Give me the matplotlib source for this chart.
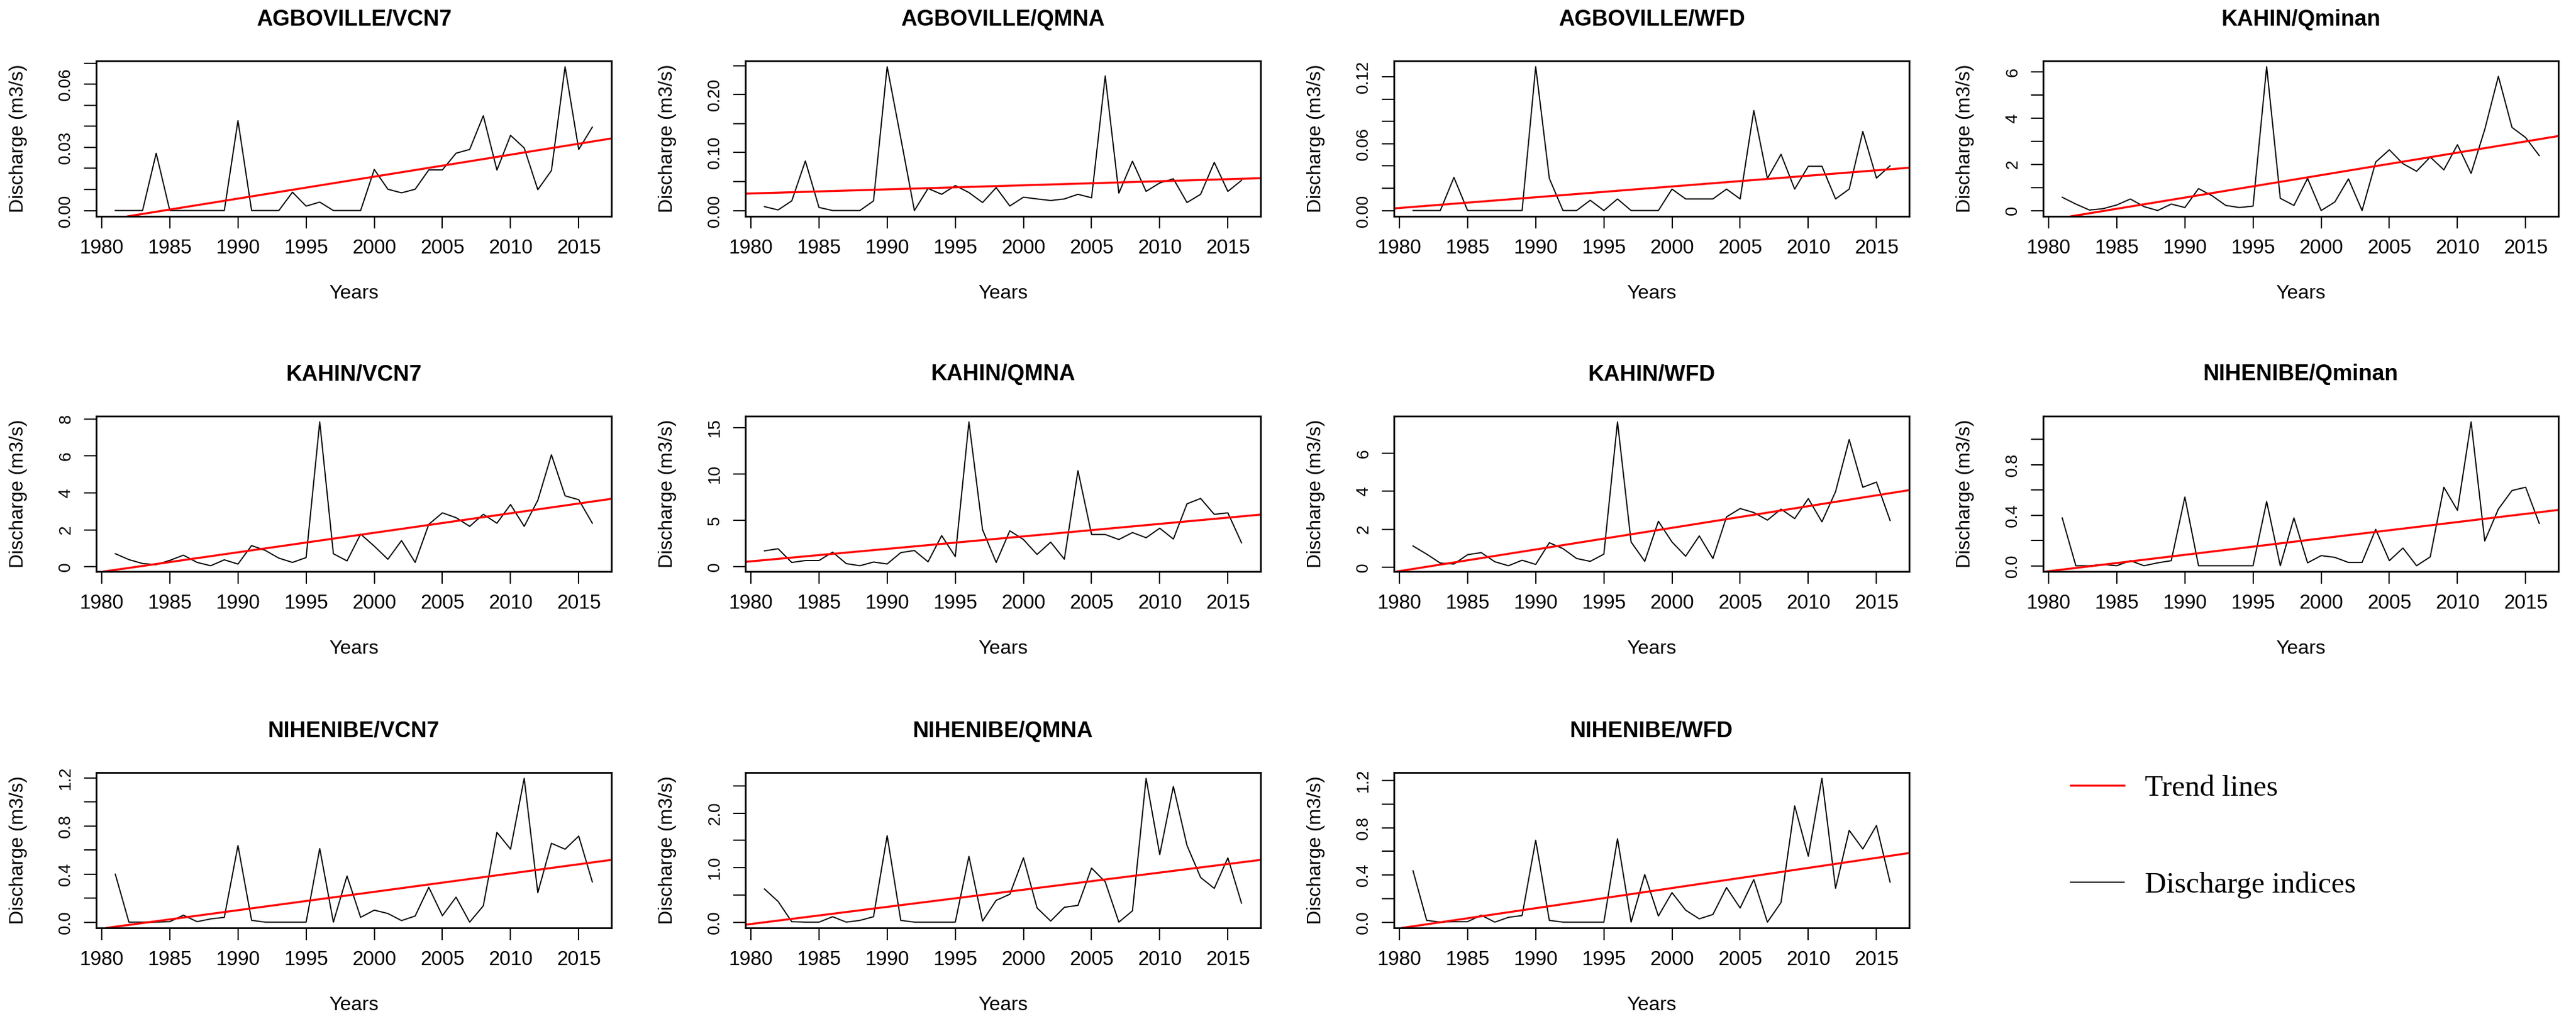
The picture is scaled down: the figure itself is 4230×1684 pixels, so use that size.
import numpy as np
import matplotlib
matplotlib.use('Agg')
import matplotlib.pyplot as plt
from matplotlib.lines import Line2D

# data, one value per year 1981-2016
years = list(range(1981, 2017))

titles = ['AGBOVILLE/VCN7', 'AGBOVILLE/QMNA', 'AGBOVILLE/WFD', 'KAHIN/Qminan',
          'KAHIN/VCN7', 'KAHIN/QMNA', 'KAHIN/WFD', 'NIHENIBE/Qminan',
          'NIHENIBE/VCN7', 'NIHENIBE/QMNA', 'NIHENIBE/WFD']

agboville_vcn7 = [0, 0, 0, 0.0272, 0, 0, 0, 0, 0, 0.0427,
                  0, 0, 0, 0.0087, 0.0021, 0.004, 0, 0, 0, 0.0195,
                  0.0101, 0.0084, 0.0101, 0.0193, 0.0193, 0.0272, 0.029, 0.045, 0.0192, 0.0357,
                  0.0297, 0.0099, 0.019, 0.0683, 0.029, 0.0396]
agboville_qmna = [0.0067, 0.001, 0.0166, 0.0854, 0.0053, 0, 0, 0, 0.0166, 0.248,
                  0.125, 0, 0.038, 0.028, 0.043, 0.031, 0.0138, 0.0395, 0.0078, 0.023,
                  0.020, 0.0173, 0.020, 0.028, 0.022, 0.232, 0.030, 0.085, 0.033, 0.0476,
                  0.0547, 0.0138, 0.028, 0.083, 0.033, 0.052]
agboville_wfd = [0, 0, 0, 0.0297, 0, 0, 0, 0, 0, 0.129,
                 0.0288, 0, 0, 0.0092, 0, 0.0104, 0, 0, 0, 0.0192,
                 0.0104, 0.0104, 0.0104, 0.0192, 0.0104, 0.0897, 0.0288, 0.0504, 0.0192, 0.0397,
                 0.0397, 0.0104, 0.0192, 0.0709, 0.0291, 0.0401]
kahin_qminan = [0.575, 0.28, 0.02, 0.08, 0.24, 0.5, 0.17, 0, 0.28, 0.13,
                0.95, 0.64, 0.22, 0.13, 0.19, 6.23, 0.53, 0.22, 1.39, 0,
                0.37, 1.37, 0, 2.1, 2.63, 2.03, 1.70, 2.32, 1.76, 2.85,
                1.61, 3.51, 5.81, 3.6, 3.16, 2.38]
kahin_vcn7 = [0.71, 0.39, 0.18, 0.12, 0.35, 0.63, 0.24, 0.06, 0.38, 0.15,
              1.15, 0.89, 0.47, 0.24, 0.5, 7.84, 0.71, 0.32, 1.77, 1.12,
              0.41, 1.42, 0.24, 2.3, 2.92, 2.66, 2.19, 2.84, 2.36, 3.37,
              2.19, 3.6, 6.06, 3.84, 3.63, 2.36]
kahin_qmna = [1.72, 1.95, 0.47, 0.68, 0.68, 1.58, 0.35, 0.12, 0.52, 0.31,
              1.53, 1.76, 0.54, 3.36, 1.1, 15.6, 4.0, 0.47, 3.88, 2.94,
              1.34, 2.66, 0.82, 10.35, 3.48, 3.48, 2.94, 3.69, 3.13, 4.16,
              2.99, 6.78, 7.36, 5.65, 5.81, 2.59]
kahin_wfd = [1.12, 0.69, 0.22, 0.17, 0.66, 0.77, 0.29, 0.08, 0.37, 0.15,
             1.29, 0.98, 0.46, 0.31, 0.69, 7.65, 1.33, 0.31, 2.42, 1.33,
             0.58, 1.65, 0.46, 2.65, 3.09, 2.88, 2.48, 3.06, 2.56, 3.61,
             2.39, 3.98, 6.72, 4.21, 4.48, 2.46]
nihenibe_qminan = [0.378, 0, 0, 0.01, 0, 0.04, 0, 0.023, 0.04, 0.543,
                   0, 0, 0, 0, 0, 0.508, 0, 0.378, 0.023, 0.08,
                   0.066, 0.026, 0.026, 0.288, 0.04, 0.14, 0, 0.07, 0.621, 0.438,
                   1.138, 0.196, 0.448, 0.595, 0.621, 0.335]
nihenibe_vcn7 = [0.399, 0, 0, 0, 0.004, 0.058, 0.004, 0.027, 0.04, 0.638,
                 0.015, 0, 0, 0, 0, 0.613, 0, 0.384, 0.04, 0.1,
                 0.072, 0.013, 0.051, 0.29, 0.054, 0.208, 0, 0.136, 0.747, 0.607,
                 1.197, 0.245, 0.656, 0.607, 0.716, 0.335]
nihenibe_qmna = [0.608, 0.38, 0.008, 0, 0, 0.1, 0, 0.032, 0.1, 1.588,
                 0.032, 0, 0, 0, 0, 1.208, 0.02, 0.4, 0.512, 1.18,
                 0.26, 0.02, 0.272, 0.308, 0.992, 0.74, 0, 0.208, 2.64, 1.24,
                 2.49, 1.408, 0.82, 0.62, 1.18, 0.348]
nihenibe_wfd = [0.435, 0.015, 0, 0.004, 0.004, 0.059, 0, 0.041, 0.056, 0.694,
                0.015, 0, 0, 0, 0, 0.707, 0, 0.404, 0.052, 0.25,
                0.102, 0.028, 0.065, 0.293, 0.12, 0.361, 0, 0.167, 0.985, 0.559,
                1.219, 0.287, 0.778, 0.62, 0.819, 0.339]

series = [agboville_vcn7, agboville_qmna, agboville_wfd, kahin_qminan,
          kahin_vcn7, kahin_qmna, kahin_wfd, nihenibe_qminan,
          nihenibe_vcn7, nihenibe_qmna, nihenibe_wfd]

# y axis: tick step, top tick, label every n-th tick, label format
y_steps = [0.01, 0.05, 0.02, 1, 2, 5, 2, 0.2, 0.2, 0.5, 0.2]
y_tops = [0.07, 0.25, 0.12, 6, 8, 15, 6, 1.0, 1.2, 2.5, 1.2]
y_label_every = [3, 2, 3, 2, 1, 1, 1, 2, 2, 2, 2]
y_formats = ['%.2f', '%.2f', '%.2f', '%d', '%d', '%d', '%d', '%.1f', '%.1f', '%.1f', '%.1f']
x_ticks = list(range(1980, 2016, 5))

legend_labels = ['Trend lines', 'Discharge indices']

plt.rcParams['font.family'] = ['Liberation Sans', 'DejaVu Sans']

W, H = 4230, 1684
fig = plt.figure(figsize=(W / 100, H / 100), dpi=100)
fig.patch.set_facecolor('white')

col_left = [158, 1224, 2289, 3355]
row_top = [100, 683, 1268]
box_w, box_h = 846, 255


def r_limits(vals):
    lo, hi = min(vals), max(vals)
    pad = 0.04 * (hi - lo)
    return lo - pad, hi + pad


for i, (title, values) in enumerate(zip(titles, series)):
    r, c = divmod(i, 4)
    ax = fig.add_axes([col_left[c] / W, 1 - (row_top[r] + box_h) / H, box_w / W, box_h / H])

    ax.plot(years, values, color='black', lw=1.4)
    slope, icpt = np.polyfit(years, values, 1)
    ax.axline((years[0], icpt + slope * years[0]), slope=slope, color='red', lw=2.4)

    ax.set_xlim(*r_limits(years))
    ax.set_ylim(*r_limits(values))

    ax.set_xticks(x_ticks)
    ax.set_xticklabels([str(t) for t in x_ticks])
    ticks = np.arange(0, y_tops[i] + y_steps[i] / 2, y_steps[i])
    labels = [y_formats[i] % t if k % y_label_every[i] == 0 else '' for k, t in enumerate(ticks)]
    ax.set_yticks(ticks)
    ax.set_yticklabels(labels, rotation=90, va='center')
    ax.set_ylim(*r_limits(values))

    ax.tick_params(axis='both', direction='out', length=14.4, width=1.5)
    ax.tick_params(axis='x', labelsize=23.5, pad=12)
    ax.tick_params(axis='y', labelsize=20, pad=12)
    for sp in ax.spines.values():
        sp.set_linewidth(2)

    ax.set_title(title, fontsize=26.3, fontweight='bold', y=1 + 68 / box_h, va='center', pad=0)
    ax.set_xlabel('Years', fontsize=23.3)
    ax.xaxis.set_label_coords(0.5, -127 / box_h)
    ax.xaxis.label.set_va('center')
    ax.set_ylabel('Discharge (m3/s)', fontsize=23)
    ax.yaxis.set_label_coords(-128 / box_w, 0.5)
    ax.yaxis.label.set_va('center')

handles = [Line2D([], [], color='red', lw=2.4), Line2D([], [], color='black', lw=1.4)]
fig.legend(handles, legend_labels, loc='upper left',
           bbox_to_anchor=(3400 / W, 1 - 1272 / H), frameon=False,
           borderpad=0, borderaxespad=0, handlelength=1.8, handletextpad=0.7,
           labelspacing=2.35, prop={'family': 'Liberation Serif', 'size': 35})

fig.savefig('out.png', dpi=100, facecolor='white')
